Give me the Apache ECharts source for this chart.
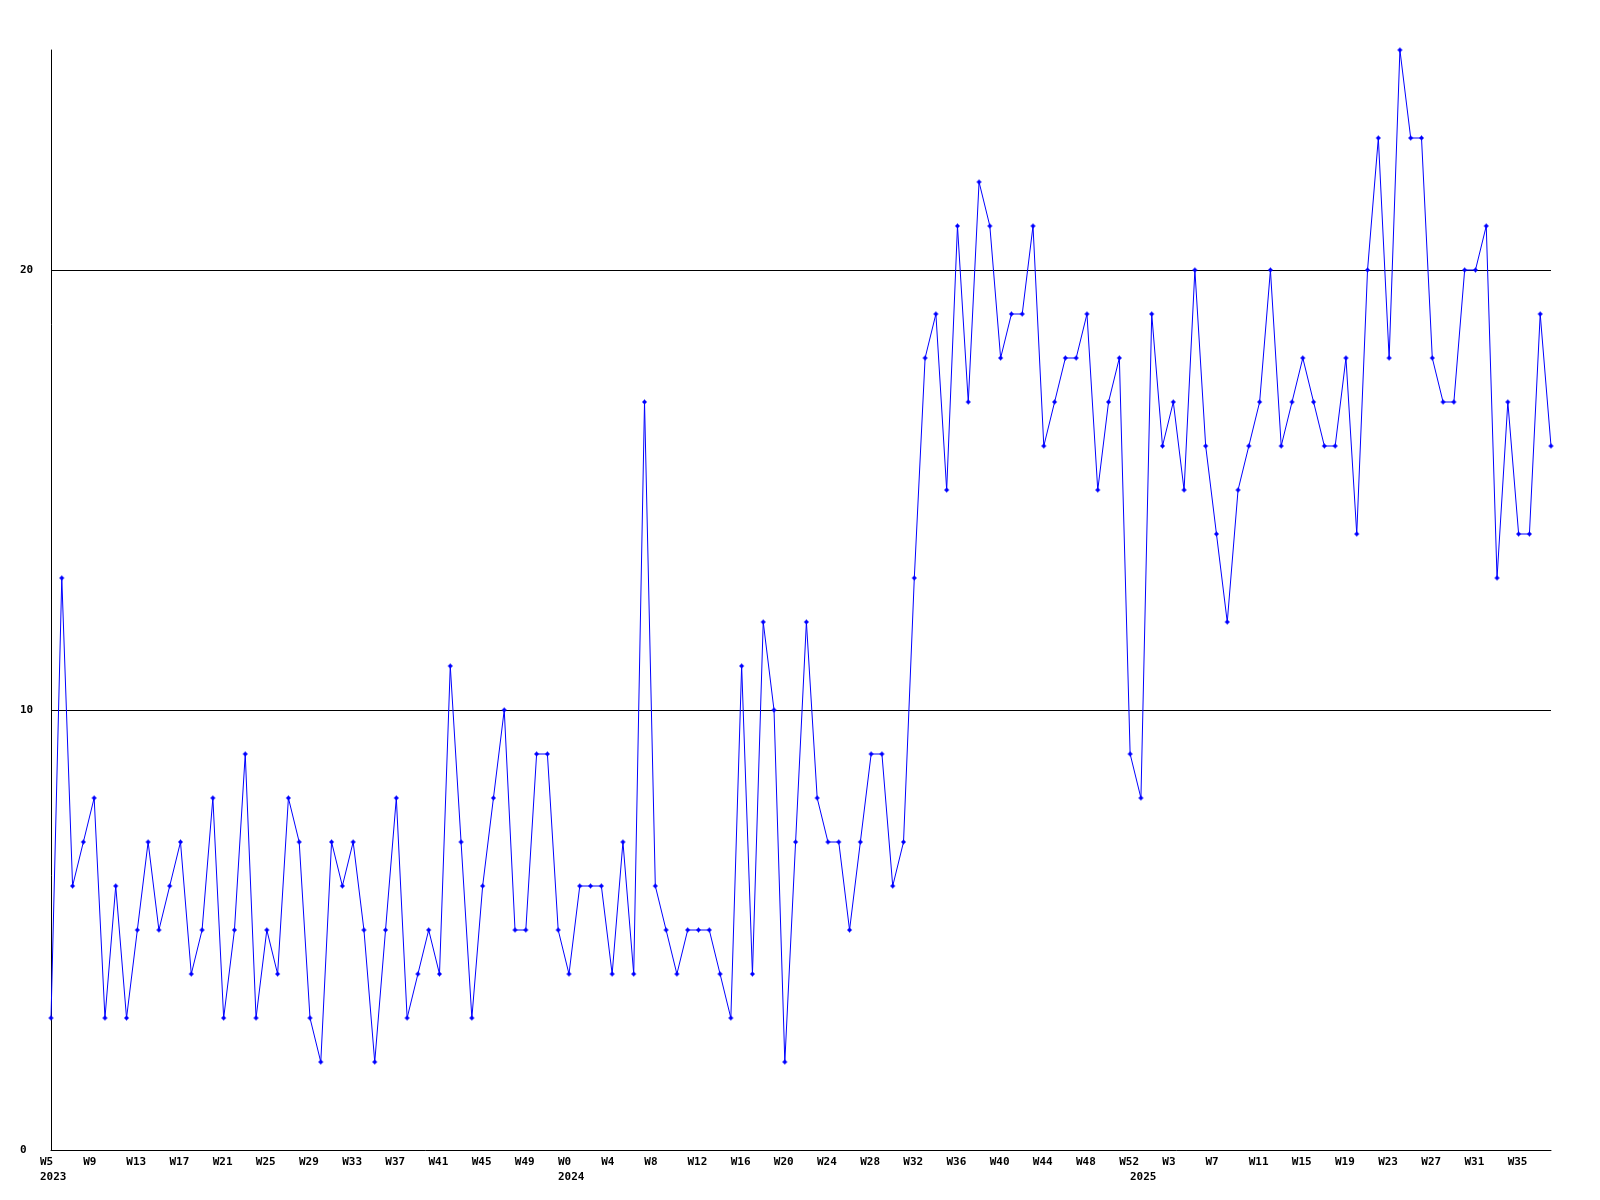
<!DOCTYPE html>
<html>
<head>
<meta charset="utf-8">
<script src="https://cdn.jsdelivr.net/npm/echarts@6/dist/echarts.min.js"></script>
<style>
  html, body { margin: 0; padding: 0; background: #fff; }
  #chart { width: 1600px; height: 1200px; }
</style>
</head>
<body>
<div id="chart"></div>
<script>
// weeks covered per year: [year, first week, last week]
const yearRanges = [[2023, 5, 52], [2024, 0, 52], [2025, 0, 38]];

// weekly counts, one array per year
const values2023 = [3, 13, 6, 7, 8, 3, 6, 3, 5, 7, 5, 6, 7, 4, 5, 8, 3, 5, 9, 3,
  5, 4, 8, 7, 3, 2, 7, 6, 7, 5, 2, 5, 8, 3, 4, 5, 4, 11, 7, 3,
  6, 8, 10, 5, 5, 9, 9, 5];
const values2024 = [4, 6, 6, 6, 4, 7, 4, 17, 6, 5, 4, 5, 5, 5, 4, 3, 11, 4, 12, 10,
  2, 7, 12, 8, 7, 7, 5, 7, 9, 9, 6, 7, 13, 18, 19, 15, 21, 17, 22, 21,
  18, 19, 19, 21, 16, 17, 18, 18, 19, 15, 17, 18, 9];
const values2025 = [8, 19, 16, 17, 15, 20, 16, 14, 12, 15, 16, 17, 20, 16, 17, 18, 17, 16, 16, 18,
  14, 20, 23, 18, 25, 23, 23, 18, 17, 17, 20, 20, 21, 13, 17, 14, 14, 19, 16];

const yTicks = [0, 10, 20];

// category labels "W5", "W6", ... and where each year starts
const categories = [];
const yearStart = {};
yearRanges.forEach(function (r) {
  yearStart[categories.length] = String(r[0]);
  for (let w = r[1]; w <= r[2]; w++) categories.push('W' + w);
});
const values = values2023.concat(values2024, values2025);

const font = {
  fontFamily: '"DejaVu Sans Mono", "Liberation Mono", monospace',
  fontWeight: 'bold',
  fontSize: 11,
  color: '#000'
};

const chart = echarts.init(document.getElementById('chart'));
chart.setOption({
  animation: false,
  backgroundColor: '#fff',
  grid: { left: 51, right: 49, top: 50, bottom: 50 },
  xAxis: [
    {
      type: 'category',
      data: categories,
      boundaryGap: false,
      axisLine: { lineStyle: { color: '#000', width: 1 } },
      axisTick: { show: false },
      splitLine: { show: false },
      axisLabel: Object.assign({}, font, {
        interval: 3,
        align: 'left',
        padding: [0, 0, 0, -11],
        margin: 7
      })
    },
    {
      type: 'category',
      data: categories,
      position: 'bottom',
      boundaryGap: false,
      axisLine: { show: false },
      axisTick: { show: false },
      splitLine: { show: false },
      axisLabel: Object.assign({}, font, {
        interval: function (i) { return yearStart[i] !== undefined; },
        formatter: function (v, i) { return yearStart[i] || ''; },
        align: 'left',
        padding: [0, 0, 0, -11],
        margin: 22
      })
    }
  ],
  yAxis: {
    type: 'value',
    min: 0,
    max: 25,
    interval: 10,
    axisLine: { show: true, lineStyle: { color: '#000', width: 1 } },
    axisTick: { show: false },
    splitLine: {
      show: true,
      showMinLine: false,
      showMaxLine: false,
      lineStyle: { color: '#000', width: 1 }
    },
    axisLabel: Object.assign({}, font, {
      align: 'left',
      margin: 31,
      showMaxLabel: false,
      formatter: function (v) { return yTicks.indexOf(v) >= 0 ? String(v) : ''; }
    })
  },
  series: [{
    type: 'line',
    data: values,
    xAxisIndex: 0,
    color: '#0000ff',
    lineStyle: { color: '#0000ff', width: 1 },
    itemStyle: { color: '#0000ff' },
    symbol: 'path://M2,0H3V1H4V2H5V3H4V4H3V5H2V4H1V3H0V2H1V1H2Z',
    symbolSize: 5,
    showAllSymbol: true,
    emphasis: { disabled: true }
  }]
});
</script>
</body>
</html>
